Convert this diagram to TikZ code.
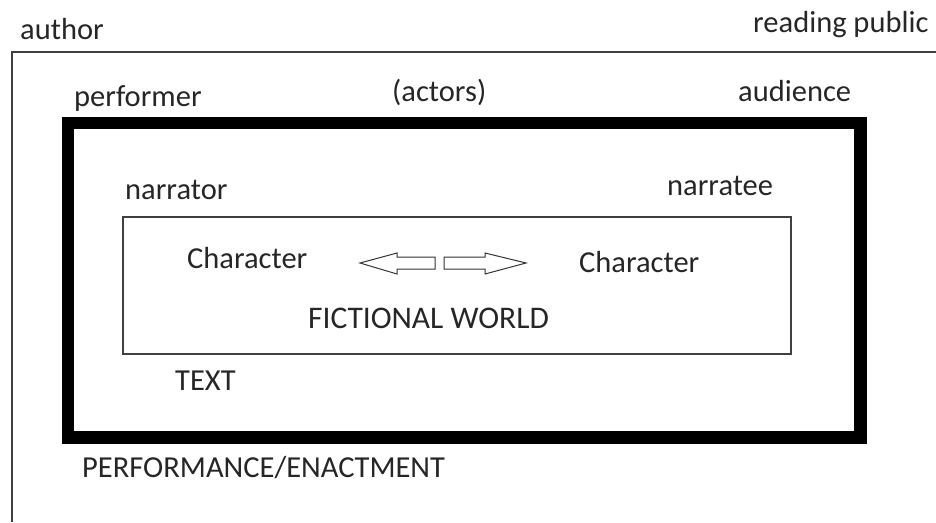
\documentclass[tikz,border=0pt]{standalone}
\usepackage{fontspec}
\setmainfont{Carlito}
\begin{document}
\begin{tikzpicture}[x=1pt,y=-1pt,
  lbl/.style={anchor=base west,inner sep=0pt,text=black!85,font=\fontsize{30.5}{34}\selectfont},
  thinframe/.style={draw=black!75,line width=1.6pt},
  blockarrow/.style={draw=black!80,line width=1pt,fill=white,line join=miter}]
\useasboundingbox (0,0) rectangle (936,522);
% outer frame (open to the right and bottom)
\draw[thinframe] (936,52) -- (12,52) -- (12,522);
% thick performance frame
\draw[line width=12.5pt,black] (68,123) rectangle (860.5,437.5);
% fictional world frame
\draw[thinframe] (123,217) rectangle (791,354);
% block arrows
\draw[blockarrow] (360,263) -- (397,253) -- (397,257) -- (435,257) -- (435,269) -- (397,269) -- (397,274) -- cycle;
\draw[blockarrow] (526,263) -- (485,253) -- (485,257) -- (444,257) -- (444,269) -- (485,269) -- (485,274) -- cycle;
% labels
\node[lbl] (author) at (20,39) {author};
\node[lbl] (public) at (753,32) {reading public};
\node[lbl] (performer) at (74,106) {performer};
\node[lbl] (actors) at (392,101) {(actors)};
\node[lbl] (audience) at (738,101) {audience};
\node[lbl] (narrator) at (125,199) {narrator};
\node[lbl] (narratee) at (667,195) {narratee};
\node[lbl] (charL) at (187,268) {Character};
\node[lbl] (charR) at (579,272) {Character};
\node[lbl,font=\fontsize{31.5}{35}\selectfont] (world) at (308,328) {FICTIONAL WORLD};
\node[lbl] (text) at (175,390) {TEXT};
\node[lbl] (perf) at (82,477) {PERFORMANCE/ENACTMENT};
\end{tikzpicture}
\end{document}
